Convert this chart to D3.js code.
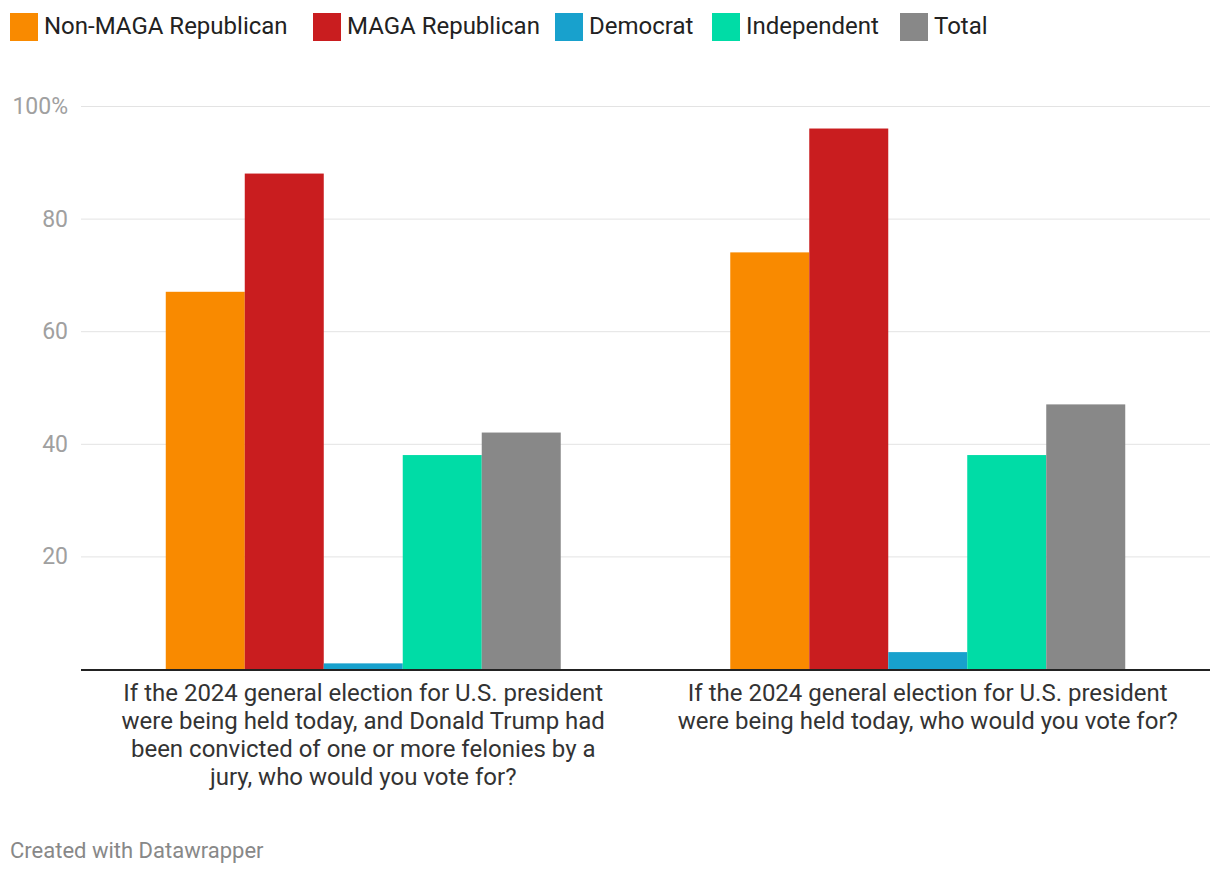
<!DOCTYPE html>
<html><head><meta charset="utf-8">
<script src="https://cdn.jsdelivr.net/npm/d3@7"></script>
<style>
body{margin:0;background:#fff;font-family:Roboto,"Noto Sans",sans-serif;}
</style></head>
<body><svg id="c" width="1220" height="876"></svg>
<script>
const categories = [
  ["If the 2024 general election for U.S. president","were being held today, and Donald Trump had","been convicted of one or more felonies by a","jury, who would you vote for?"],
  ["If the 2024 general election for U.S. president","were being held today, who would you vote for?"]
];
const seriesNames = ["Non-MAGA Republican","MAGA Republican","Democrat","Independent","Total"];
const seriesColors = ["#f98a00","#c91d1f","#18a1cd","#00dca6","#888888"];
const nonMaga = [67, 74];
const maga = [88, 96];
const democrat = [1, 3];
const independent = [38, 38];
const total = [42, 47];
const yTicks = [20, 40, 60, 80, 100];
const values = [nonMaga, maga, democrat, independent, total];

(function(){
const svg = d3.select("#c");
const pLeft = 81, pRight = 1210, pTop = 106, pBottom = 669;
const x0 = d3.scaleBand().domain(d3.range(categories.length)).range([pLeft, pRight]).paddingInner(0).paddingOuter(0);
const x1 = d3.scaleBand().domain(d3.range(seriesNames.length)).range([0, x0.bandwidth()]).paddingInner(0).paddingOuter(1.073);
const y = d3.scaleLinear().domain([0, 100]).range([pBottom, pTop]);

const g = svg.append("g");
g.selectAll("line.grid").data(yTicks).join("line")
  .attr("x1", pLeft).attr("x2", pRight)
  .attr("y1", d => y(d) + 0.5).attr("y2", d => y(d) + 0.5)
  .attr("stroke", "#e3e3e3").attr("stroke-width", 1);
g.selectAll("text.yl").data(yTicks).join("text")
  .attr("x", 68).attr("y", d => y(d))
  .attr("dy", "0.35em").attr("text-anchor", "end")
  .attr("font-size", 23).attr("fill", "#a0a0a0")
  .text(d => d === 100 ? "100%" : d);

const groups = svg.append("g").selectAll("g").data(categories).join("g")
  .attr("transform", (d, i) => `translate(${x0(i)},0)`);
groups.selectAll("rect").data((d, i) => values.map((s, k) => ({k, v: s[i]}))).join("rect")
  .attr("x", d => x1(d.k)).attr("width", x1.bandwidth())
  .attr("y", d => y(d.v)).attr("height", d => pBottom - y(d.v))
  .attr("fill", d => seriesColors[d.k]);

svg.append("line").attr("x1", pLeft).attr("x2", pRight)
  .attr("y1", pBottom + 1).attr("y2", pBottom + 1)
  .attr("stroke", "#222").attr("stroke-width", 2);

categories.forEach((lines, i) => {
  const t = svg.append("text").attr("text-anchor", "middle")
    .attr("font-size", 24).attr("fill", "#333");
  lines.forEach((ln, j) => {
    t.append("tspan").attr("x", x0(i) + x0.bandwidth() / 2)
      .attr("y", 701 + j * 28).text(ln);
  });
});

const legendX = [10, 313, 555, 712, 900];
const lg = svg.append("g");
seriesNames.forEach((n, i) => {
  lg.append("rect").attr("x", legendX[i]).attr("y", 13).attr("width", 28).attr("height", 28).attr("fill", seriesColors[i]);
  lg.append("text").attr("x", legendX[i] + 34).attr("y", 26).attr("dy", "0.35em")
    .attr("font-size", 24).attr("fill", "#222").text(n);
});

svg.append("text").attr("x", 10).attr("y", 858).attr("font-size", 22)
  .attr("fill", "#888").text("Created with Datawrapper");
})();
</script>
</body></html>
